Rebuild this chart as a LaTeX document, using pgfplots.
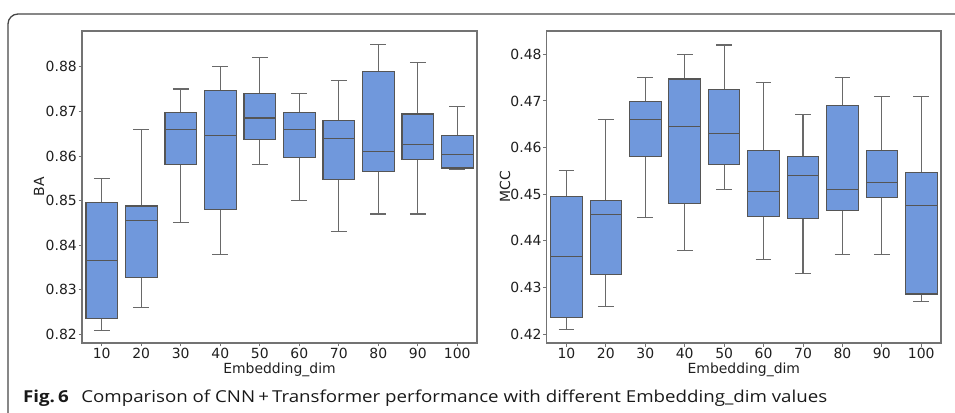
\documentclass[border=0pt]{standalone}
\usepackage{fontspec}
\setmainfont{DejaVu Sans}
\newfontfamily\capfont{Open Sans}
\usepackage{graphicx}
\usepackage{pgfplots}
\pgfplotsset{compat=1.18}
\definecolor{boxfill}{RGB}{112,152,220}
\definecolor{boxedge}{RGB}{85,85,85}
\definecolor{whisk}{RGB}{105,105,105}
\definecolor{spine}{RGB}{115,115,115}
\definecolor{framecol}{RGB}{70,70,70}

% #1 position, #2 lower whisker, #3 Q1, #4 median, #5 Q3, #6 upper whisker
\newcommand{\bx}[6]{%
  \pgfmathsetmacro\BXl{#1-0.4}\pgfmathsetmacro\BXr{#1+0.4}%
  \pgfmathsetmacro\CXl{#1-0.2}\pgfmathsetmacro\CXr{#1+0.2}%
  \addplot[whisk, line width=1.1bp] coordinates {(#1,#2) (#1,#3)};
  \addplot[whisk, line width=1.1bp] coordinates {(#1,#5) (#1,#6)};
  \addplot[whisk, line width=1.1bp] coordinates {(\CXl,#2) (\CXr,#2)};
  \addplot[whisk, line width=1.1bp] coordinates {(\CXl,#6) (\CXr,#6)};
  \addplot[boxedge, fill=boxfill, line width=1.1bp] coordinates {(\BXl,#3) (\BXr,#3) (\BXr,#5) (\BXl,#5)} -- cycle;
  \addplot[boxedge, line width=1.1bp] coordinates {(\BXl,#4) (\BXr,#4)};
}

\pgfplotsset{
  panel/.style={
    scale only axis, anchor=south west,
    height=312bp,
    xmin=-0.5, xmax=9.5,
    xtick={0,1,2,3,4,5,6,7,8,9},
    xticklabels={10,20,30,40,50,60,70,80,90,100},
    tick pos=left,
    tick align=outside, major tick length=3.5bp,
    tick style={spine, line width=0.9bp},
    axis line style={spine, line width=1.1bp},
    tick label style={font=\fontsize{14}{16}\selectfont, text=black!88},
    label style={font=\fontsize{14}{16}\selectfont, text=black!88},
    yticklabel style={inner sep=1.5bp, /pgf/number format/.cd, fixed, fixed zerofill, precision=2},
    xticklabel style={inner sep=1.5bp},
    /pgf/number format/assume math mode=true,
    xlabel style={at={(axis description cs:0.5,-0.0971)}, anchor=base, inner sep=0},
  }
}

\begin{document}
\begin{tikzpicture}
\useasboundingbox (0bp,0bp) rectangle (955bp,413bp);
\draw[line width=1.3bp, framecol, rounded corners=10bp] (8bp,-2bp) -- (8bp,399bp) -- (957bp,399bp);

\begin{axis}[panel, at={(82bp,70bp)}, width=395bp,
  ymin=0.8181, ymax=0.888,
  ytick={0.82,0.83,0.84,0.85,0.86,0.87,0.88},
  xlabel={Embedding\_dim}, ylabel={BA},
  ylabel style={at={(axis description cs:-0.109,0.5)}, anchor=center, inner sep=0},
]
\bx{0}{0.821}{0.8235}{0.8365}{0.8495}{0.855}
\bx{1}{0.826}{0.8328}{0.8455}{0.8488}{0.866}
\bx{2}{0.845}{0.858}{0.866}{0.8697}{0.875}
\bx{3}{0.838}{0.848}{0.8645}{0.8747}{0.880}
\bx{4}{0.858}{0.8637}{0.8685}{0.874}{0.882}
\bx{5}{0.850}{0.8597}{0.866}{0.8697}{0.874}
\bx{6}{0.843}{0.8548}{0.864}{0.868}{0.877}
\bx{7}{0.847}{0.8565}{0.861}{0.879}{0.885}
\bx{8}{0.847}{0.8593}{0.8625}{0.8694}{0.881}
\bx{9}{0.857}{0.8573}{0.8604}{0.8646}{0.871}
\end{axis}

\begin{axis}[panel, at={(546.7bp,70bp)}, width=394.3bp,
  ymin=0.4181, ymax=0.485,
  ytick={0.42,0.43,0.44,0.45,0.46,0.47,0.48},
  xlabel={Embedding\_dim}, ylabel={MCC},
  ylabel style={at={(axis description cs:-0.1058,0.5)}, anchor=center, inner sep=0},
]
\bx{0}{0.421}{0.4236}{0.4366}{0.4496}{0.455}
\bx{1}{0.426}{0.4327}{0.4456}{0.4487}{0.466}
\bx{2}{0.445}{0.458}{0.466}{0.4698}{0.475}
\bx{3}{0.438}{0.448}{0.4645}{0.4747}{0.480}
\bx{4}{0.451}{0.4563}{0.463}{0.4725}{0.482}
\bx{5}{0.436}{0.4452}{0.4506}{0.4594}{0.474}
\bx{6}{0.433}{0.4447}{0.4541}{0.458}{0.467}
\bx{7}{0.437}{0.4465}{0.451}{0.469}{0.475}
\bx{8}{0.437}{0.4493}{0.4526}{0.4594}{0.471}
\bx{9}{0.427}{0.4286}{0.4476}{0.4547}{0.471}
\end{axis}

\node[anchor=base west, inner sep=0, text=black!90,
  font=\capfont\fontsize{16.5}{20}\selectfont] at (23bp,10.7bp)
  {\resizebox{804bp}{\height}{\textbf{Fig.\,6}\hspace{11bp}Comparison of CNN\,+\,Transformer performance with different Embedding\_dim values}};
\end{tikzpicture}
\end{document}
